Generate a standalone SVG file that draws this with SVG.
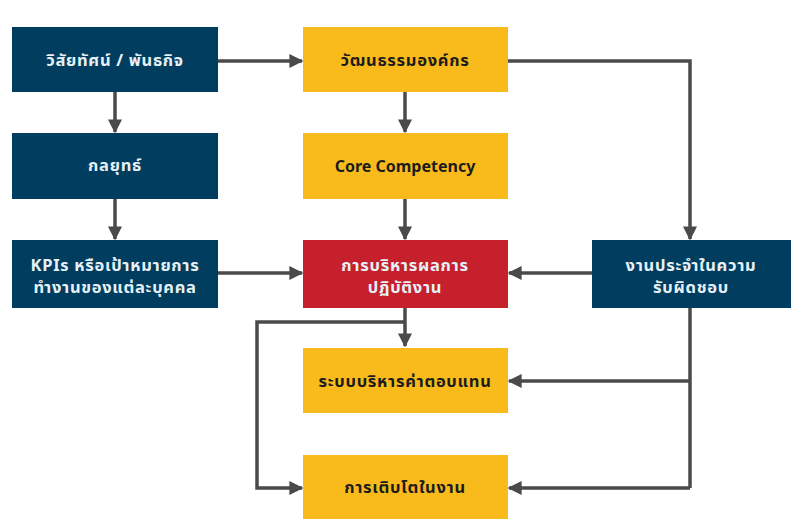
<svg xmlns="http://www.w3.org/2000/svg" width="793" height="519" viewBox="0 0 793 519">
<defs>
<marker id="ah" viewBox="0 0 10 10" refX="9" refY="5" markerWidth="4" markerHeight="4" orient="auto" markerUnits="strokeWidth">
<path d="M0,0 L10,5 L0,10 Z" fill="#4a4a4a"/>
</marker>
<style>
.navy{fill:#003d5e}
.yel{fill:#f9bb1c}
.red{fill:#c5202b}
.t{font-family:"Noto Sans","Noto Sans Thai","DejaVu Sans",sans-serif;font-weight:bold;font-size:16.5px;letter-spacing:0.7px;text-anchor:middle}
.tw{fill:#e6f0f7}
.td{fill:#1c1c1c}
.c{fill:none;stroke:#4a4a4a;stroke-width:3.5}
.ca{fill:none;stroke:#4a4a4a;stroke-width:3.5;marker-end:url(#ah)}
</style>
</defs>
<rect width="793" height="519" fill="#ffffff"/>
<g id="connectors">
<path class="ca" d="M218,61 H302"/>
<path class="ca" d="M115,92 V132"/>
<path class="ca" d="M115,199 V239"/>
<path class="ca" d="M218,273 H302"/>
<path class="ca" d="M405,92 V132"/>
<path class="ca" d="M405,199 V239"/>
<path class="ca" d="M508,61 H690 V239"/>
<path class="ca" d="M592,273 H509"/>
<path class="ca" d="M405,308 V346"/>
<path class="ca" d="M405,322 H257 V488 H302"/>
<path class="c" d="M690,308 V488"/>
<path class="ca" d="M690,381 H509"/>
<path class="ca" d="M690,488 H509"/>
</g>
<g id="vision">
<rect class="navy" x="12" y="27" width="206" height="65"/>
<text class="t tw" x="115" y="66">วิสัยทัศน์ / พันธกิจ</text>
</g>
<g id="culture">
<rect class="yel" x="303" y="27" width="205" height="65"/>
<text class="t td" x="405" y="66">วัฒนธรรมองค์กร</text>
</g>
<g id="strategy">
<rect class="navy" x="12" y="133" width="206" height="66"/>
<text class="t tw" x="115" y="171">กลยุทธ์</text>
</g>
<g id="core">
<rect class="yel" x="303" y="133" width="205" height="66"/>
<text class="t td" x="405" y="172" style="font-size:16px;letter-spacing:0">Core Competency</text>
</g>
<g id="kpis">
<rect class="navy" x="12" y="240" width="206" height="68"/>
<text class="t tw" x="115" y="271">KPIs หรือเป้าหมายการ</text>
<text class="t tw" x="115" y="293">ทำงานของแต่ละบุคคล</text>
</g>
<g id="performance">
<rect class="red" x="303" y="240" width="205" height="68"/>
<text class="t tw" x="405" y="271">การบริหารผลการ</text>
<text class="t tw" x="405" y="293">ปฏิบัติงาน</text>
</g>
<g id="routine">
<rect class="navy" x="592" y="240" width="199" height="68"/>
<text class="t tw" x="691" y="271">งานประจำในความ</text>
<text class="t tw" x="691" y="293">รับผิดชอบ</text>
</g>
<g id="compensation">
<rect class="yel" x="303" y="348" width="205" height="65"/>
<text class="t td" x="405" y="387">ระบบบริหารค่าตอบแทน</text>
</g>
<g id="growth">
<rect class="yel" x="303" y="455" width="205" height="64"/>
<text class="t td" x="405" y="493">การเติบโตในงาน</text>
</g>
</svg>
